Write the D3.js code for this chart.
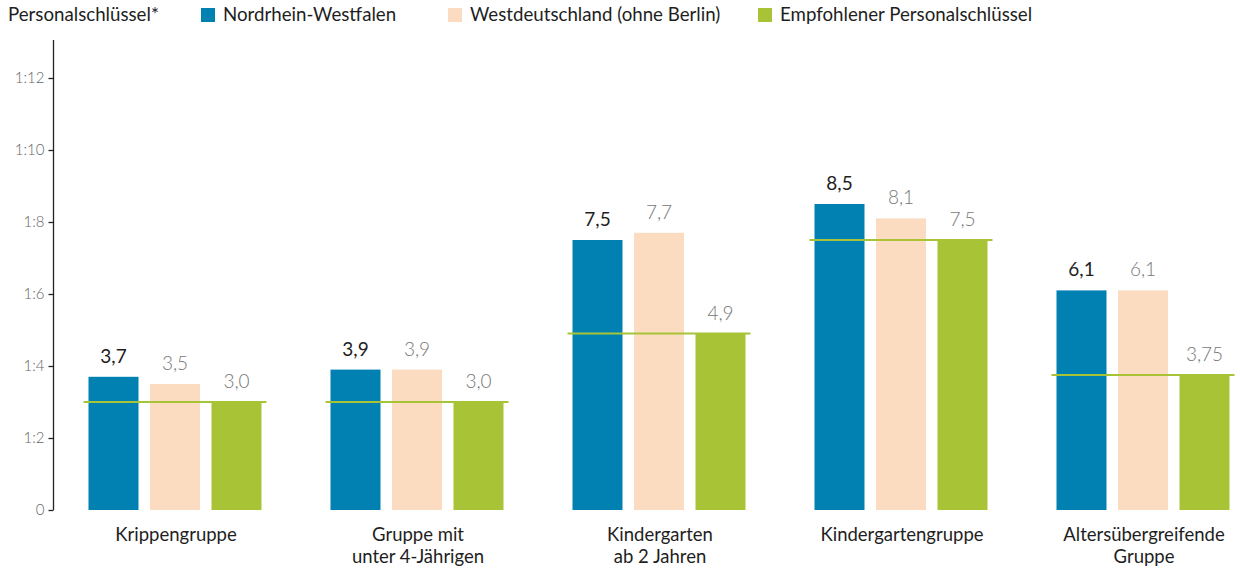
<!DOCTYPE html>
<html>
<head>
<meta charset="utf-8">
<script src="https://cdn.jsdelivr.net/npm/d3@7"></script>
<style>
    body { margin: 0; background: #fff; font-family: Lato, "Open Sans", sans-serif; }
</style>
</head>
<body>
<div id="chart_container"></div>
<script>
var categories = [["Krippengruppe"], ["Gruppe mit", "unter 4-Jährigen"], ["Kindergarten", "ab 2 Jahren"], ["Kindergartengruppe"], ["Altersübergreifende", "Gruppe"]];
var series_names = ["Nordrhein-Westfalen", "Westdeutschland (ohne Berlin)", "Empfohlener Personalschlüssel"];
var nrw_values = [3.7, 3.9, 7.5, 8.5, 6.1];
var west_values = [3.5, 3.9, 7.7, 8.1, 6.1];
var recommended_values = [3.0, 3.0, 4.9, 7.5, 3.75];
var value_labels = [
    ["3,7", "3,9", "7,5", "8,5", "6,1"],
    ["3,5", "3,9", "7,7", "8,1", "6,1"],
    ["3,0", "3,0", "4,9", "7,5", "3,75"]
];
var tick_values = [0, 2, 4, 6, 8, 10, 12];
var tick_labels = ["0", "1:2", "1:4", "1:6", "1:8", "1:10", "1:12"];

var colors = ["#0081b1", "#fbdcc0", "#a9c337"];

var width = 1240, height = 568;

var svg = d3.select("#chart_container")
    .append("svg")
    .attr("width", width)
    .attr("height", height);

// scales
var y = d3.scaleLinear()
    .domain([0, 12])
    .range([510, 78]);

var x = d3.scaleBand()
    .domain(d3.range(categories.length))
    .range([54, 1264])
    .padding(0);

var x_inner = d3.scaleBand()
    .domain([0, 1, 2])
    .range([-86.5, 86.5])
    .paddingInner(0.187);

// y axis
var axis = svg.append("g")
    .attr("transform", "translate(53.5,0)")
    .call(d3.axisLeft(y)
        .tickValues(tick_values)
        .tickFormat(function (d, i) { return tick_labels[i]; })
        .tickSize(5)
        .tickPadding(4));
axis.select(".domain").remove();
axis.append("line")
    .attr("x1", 0).attr("x2", 0)
    .attr("y1", 40).attr("y2", y(0))
    .attr("stroke", "#222")
    .attr("stroke-width", 1.3);
axis.selectAll(".tick line").attr("stroke", "#222").attr("stroke-width", 1.3);
axis.selectAll(".tick text")
    .attr("fill", "#666")
    .style("font-family", "Lato, sans-serif")
    .style("font-size", "15px")
    .style("font-weight", 300);

// bars
var all_values = [nrw_values, west_values, recommended_values];
var groups = svg.selectAll(".group")
    .data(categories)
    .enter()
    .append("g")
    .attr("class", "group")
    .attr("transform", function (d, i) { return "translate(" + (x(i) + x.bandwidth() / 2) + ",0)"; });

groups.each(function (cat, ci) {
    var g = d3.select(this);
    for (var s = 0; s < 3; s++) {
        var v = all_values[s][ci];
        g.append("rect")
            .attr("x", x_inner(s))
            .attr("y", y(v))
            .attr("width", x_inner.bandwidth())
            .attr("height", y(0) - y(v))
            .attr("fill", colors[s]);
        g.append("text")
            .attr("x", x_inner(s) + x_inner.bandwidth() / 2)
            .attr("y", y(v) - 14)
            .attr("text-anchor", "middle")
            .style("font-size", "19px")
            .style("font-weight", s == 0 ? 400 : 300)
            .attr("fill", s == 0 ? "#1e1e1e" : "#777")
            .text(value_labels[s][ci]);
    }
    // recommended line across the group
    g.append("line")
        .attr("x1", x_inner(0) - 5)
        .attr("x2", x_inner(2) + x_inner.bandwidth() + 5)
        .attr("y1", y(recommended_values[ci]))
        .attr("y2", y(recommended_values[ci]))
        .attr("stroke", "#a9c337")
        .attr("stroke-width", 2);
    // category label
    var label = g.append("text")
        .attr("text-anchor", "middle")
        .attr("y", 541)
        .style("font-size", "18.5px")
        .attr("fill", "#1e1e1e");
    cat.forEach(function (line, li) {
        label.append("tspan")
            .attr("x", 1)
            .attr("dy", li == 0 ? 0 : 22)
            .text(line);
    });
});

// legend
var legend = svg.append("g").attr("class", "legend");
legend.append("text")
    .attr("x", 8)
    .attr("y", 21)
    .style("font-size", "18.7px")
    .attr("fill", "#1e1e1e")
    .text("Personalschlüssel*");

var legend_x = [201, 448, 758];
series_names.forEach(function (name, i) {
    legend.append("rect")
        .attr("x", legend_x[i])
        .attr("y", 8)
        .attr("width", 14)
        .attr("height", 14)
        .attr("fill", colors[i]);
    legend.append("text")
        .attr("x", legend_x[i] + 22)
        .attr("y", 21)
        .style("font-size", "18.7px")
        .attr("fill", "#1e1e1e")
        .text(name);
});
</script>
</body>
</html>
